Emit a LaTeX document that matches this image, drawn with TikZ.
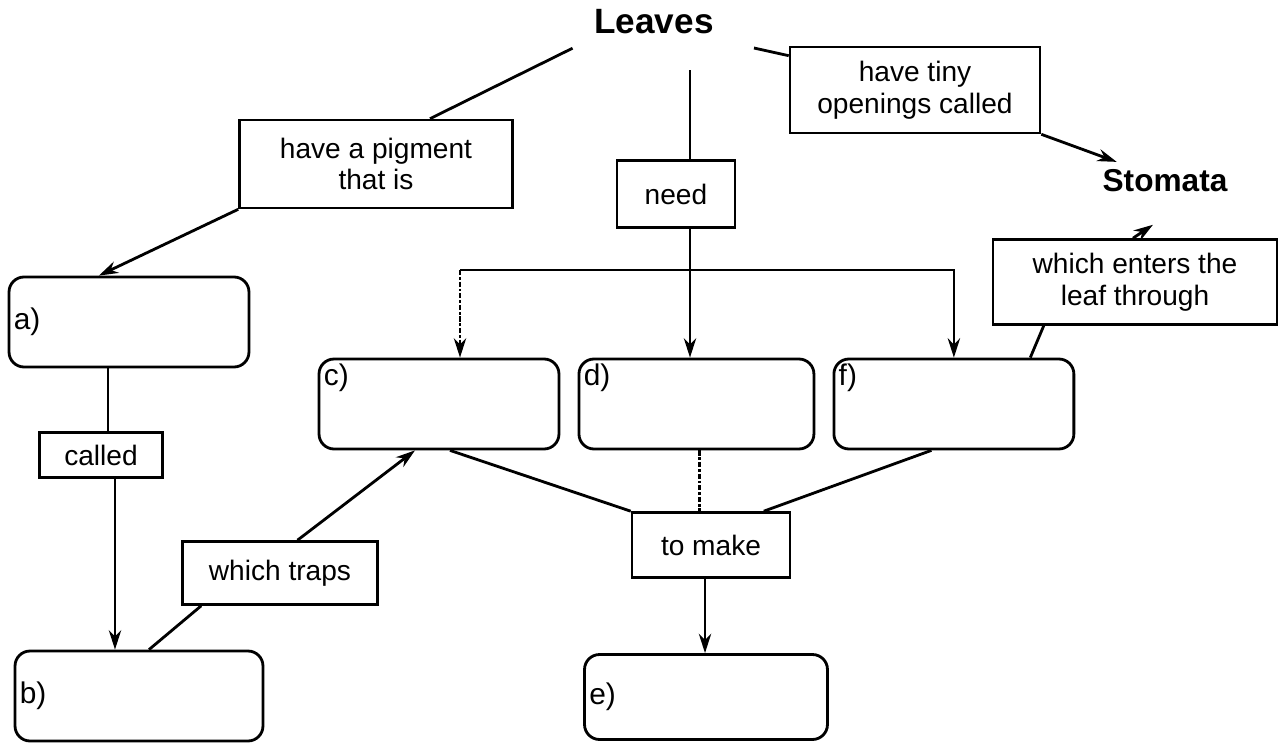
\documentclass[tikz,border=0pt]{standalone}
\usepackage{fontspec}
\setmainfont{Liberation Sans}
\usetikzlibrary{shapes.geometric, arrows, arrows.meta}
\tikzstyle{answer} = [rectangle, rounded corners=0.3cm, minimum width=4.8cm, minimum height=1.8cm, line width=1.6pt, draw=black, font=\fontsize{17}{19}\selectfont]
\tikzstyle{link} = [rectangle, line width=1.5pt, draw=black, align=center, font=\fontsize{16}{18}\selectfont]
\tikzstyle{topic} = [font=\fontsize{20}{22}\selectfont\bfseries]
\tikzstyle{conn} = [line width=1.6pt]
\tikzstyle{arrow} = [line width=1.6pt,->,>={Stealth[length=11pt, width=7pt]}]

\begin{document}
\begin{tikzpicture}[x=0.02cm, y=-0.02cm, node distance=5.15cm]
\useasboundingbox (0,0) rectangle (1285,743);

\node (leaves) [topic] at (654,22) {Leaves};
\node (stomata) [topic, font=\fontsize{18}{20}\selectfont\bfseries] at (1165,181) {Stomata};

\node (pigment) [link, minimum width=5.46cm, minimum height=1.76cm] at (376,164) {have a pigment\\that is};
\node (tiny) [link, minimum width=5cm, minimum height=1.72cm] at (915,90) {have tiny\\openings called};
\node (need) [link, minimum width=2.36cm, minimum height=1.34cm] at (676,194) {need};
\node (called) [link, minimum width=2.46cm, minimum height=0.9cm] at (101,455) {called};
\node (traps) [link, minimum width=3.9cm, minimum height=1.26cm] at (280,573) {which traps};
\node (make) [link, minimum width=3.16cm, minimum height=1.3cm] at (711,545) {to make};
\node (enters) [link, minimum width=5.68cm, minimum height=1.7cm] at (1135,282) {which enters the\\leaf through};

\node (a) [answer, label={[anchor=west, font=\fontsize{17}{19}\selectfont]west:a)}] at (129,322) {};
\node (b) [answer, minimum width=4.96cm, label={[anchor=west, font=\fontsize{17}{19}\selectfont]west:b)}] at (139,696) {};
\node (c) [answer, label={[anchor=north west, font=\fontsize{17}{19}\selectfont]north west:c)}] at (439,404) {};
\node (d) [answer, minimum width=4.7cm, right of=c, label={[anchor=north west, font=\fontsize{17}{19}\selectfont]north west:d)}] {};
\node (f) [answer, right of=d, label={[anchor=north west, font=\fontsize{17}{19}\selectfont]north west:f)}] {};
\node (e) [answer, minimum width=4.86cm, minimum height=1.7cm, label={[anchor=west, font=\fontsize{17}{19}\selectfont]west:e)}] at (706,697) {};

% leaves to the link boxes
\draw [conn, shorten <=0.35cm] (leaves.south west) -- (pigment.40);
\draw [conn, shorten <=0.6cm] ([xshift=0.28cm]need.north |- leaves.south) -- ([xshift=0.28cm]need.north);
\draw [conn, shorten <=0.7cm] (leaves.south east) -- ([yshift=-0.2cm]tiny.north west);
\draw [arrow, shorten >=0.1cm] (tiny.south east) -- ([xshift=0.5cm]stomata.north west);

% left branch
\draw [arrow] (pigment.south west) -- (a.123);
\draw [conn] ([xshift=0.14cm]called.north |- a.south) -- ([xshift=0.14cm]called.north);
\draw [arrow] ([xshift=0.28cm]called.south) -- ([xshift=0.28cm]called.south |- b.north);
\draw [conn] ([xshift=0.2cm]b.north) -- ([xshift=0.4cm]traps.south west);
\draw [arrow] ([xshift=0.35cm]traps.north) -- ([xshift=-0.48cm]c.south);

% what leaves need
\coordinate (split) at ([xshift=0.28cm]need.south |- 0,270);
\coordinate (cin) at ([xshift=0.42cm]c.north);
\draw [arrow] ([xshift=0.28cm]need.south) -- ([xshift=0.28cm]need.south |- d.north);
\draw [conn] (split) -- (split -| cin);
\draw [arrow, densely dashdotted] (split -| cin) -- (cin);
\draw [arrow] (split) -| (f.north);
\draw [conn] ([xshift=-0.9cm]f.north east) -- ([xshift=1.04cm]enters.south west);
\draw [arrow, shorten >=0.05cm] ([xshift=-0.04cm]enters.north) -- ([xshift=-0.2cm, yshift=-0.5cm]stomata.south);

% to make
\draw [conn] ([xshift=0.22cm]c.south) -- (make.north west);
\draw [conn, densely dashdotted] ([xshift=0.06cm]d.south) -- ([xshift=0.06cm]d.south |- make.north);
\draw [conn] ([xshift=-0.45cm]f.south) -- ([xshift=-0.55cm]make.north east);
\draw [arrow] ([xshift=-0.12cm]make.south) -- ([xshift=-0.12cm]make.south |- e.north);

\end{tikzpicture}
\end{document}
